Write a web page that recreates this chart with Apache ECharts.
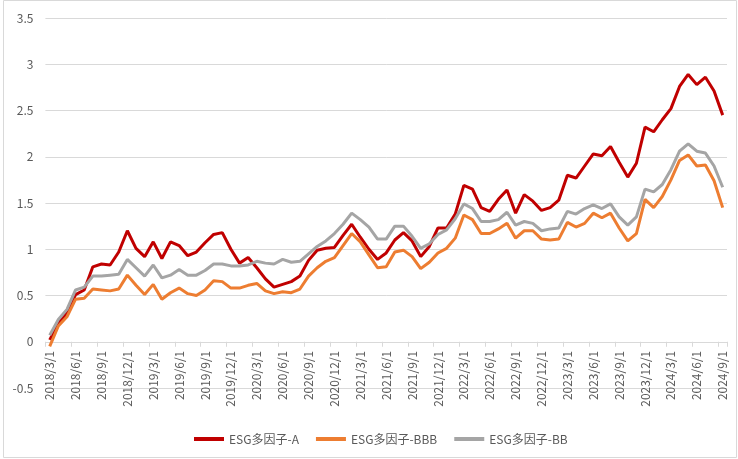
<!DOCTYPE html>
<html>
<head>
<meta charset="utf-8">
<script src="https://cdn.jsdelivr.net/npm/echarts@6/dist/echarts.min.js"></script>
<style>
html,body{margin:0;padding:0;background:#fff;}
#c{width:738px;height:459px;}
</style>
</head>
<body>
<div id="c"></div>
<script>
// Categories: monthly, 2018/3/1 .. 2024/9/1
const categories = [];
for (let y = 2018, m = 3; y < 2024 || (y === 2024 && m <= 9); ) {
  categories.push(y + '/' + m + '/1');
  m++; if (m > 12) { m = 1; y++; }
}

const seriesNames = ['ESG多因子-A', 'ESG多因子-BBB', 'ESG多因子-BB'];

const valuesA = [0.02,0.20,0.31,0.51,0.56,0.81,0.84,0.83,0.97,1.20,1.01,0.92,1.08,0.90,1.08,1.04,0.93,0.97,1.07,1.16,
  1.18,1.00,0.85,0.91,0.80,0.68,0.59,0.62,0.65,0.71,0.88,0.99,1.01,1.02,1.15,1.27,1.13,1.00,0.89,0.96,
  1.10,1.18,1.09,0.92,1.03,1.23,1.23,1.38,1.69,1.65,1.45,1.41,1.54,1.64,1.39,1.59,1.52,1.42,1.45,1.53,
  1.80,1.77,1.90,2.03,2.01,2.11,1.94,1.78,1.93,2.32,2.27,2.40,2.52,2.76,2.89,2.78,2.86,2.71,2.45];

const valuesBBB = [-0.05,0.17,0.27,0.46,0.47,0.57,0.56,0.55,0.57,0.72,0.61,0.51,0.62,0.46,0.53,0.58,0.52,0.50,0.56,0.66,
  0.65,0.58,0.58,0.61,0.63,0.55,0.52,0.54,0.53,0.57,0.71,0.80,0.87,0.91,1.04,1.17,1.08,0.94,0.80,0.81,
  0.97,0.99,0.92,0.79,0.86,0.96,1.01,1.12,1.37,1.32,1.17,1.17,1.22,1.28,1.12,1.20,1.20,1.11,1.10,1.11,
  1.29,1.24,1.28,1.39,1.34,1.39,1.23,1.09,1.17,1.54,1.45,1.57,1.75,1.96,2.02,1.90,1.91,1.74,1.45];

const valuesBB = [0.07,0.24,0.35,0.56,0.59,0.71,0.71,0.72,0.73,0.89,0.80,0.71,0.83,0.69,0.72,0.78,0.72,0.72,0.77,0.84,
  0.84,0.82,0.82,0.83,0.87,0.85,0.84,0.89,0.86,0.87,0.95,1.03,1.09,1.17,1.27,1.39,1.32,1.24,1.11,1.11,
  1.25,1.25,1.14,1.01,1.06,1.16,1.21,1.33,1.49,1.44,1.30,1.30,1.32,1.40,1.26,1.30,1.28,1.20,1.22,1.23,
  1.41,1.38,1.44,1.48,1.44,1.49,1.35,1.26,1.35,1.65,1.62,1.70,1.86,2.06,2.14,2.06,2.04,1.90,1.67];

const yMin = -0.5, yMax = 3.5, yInterval = 0.5;
const colors = ['#C00000', '#ED7D31', '#A5A5A5'];
const font = '"Noto Sans CJK SC", "Liberation Sans", sans-serif';

const gridTop = 18, gridBottom = 71, chartH = 459;
const plotH = chartH - gridTop - gridBottom;
// shift the x axis up so it sits on the zero line
const zeroOffset = -plotH * (0 - yMin) / (yMax - yMin);

const chart = echarts.init(document.getElementById('c'));
const mk = (name, data, color) => ({
  name, type: 'line', data, symbol: 'none', smooth: false,
  lineStyle: { color, width: 3 }, itemStyle: { color }, z: 3
});
chart.setOption({
  animation: false,
  color: colors,
  graphic: [{
    type: 'rect', shape: { x: 3.5, y: 0.5, width: 733, height: 457 },
    style: { fill: 'none', stroke: '#D9D9D9', lineWidth: 1 }, silent: true
  }],
  grid: { left: 45.4, right: 11, top: gridTop, bottom: gridBottom, containLabel: false },
  legend: {
    bottom: 9, left: 189,
    data: seriesNames,
    icon: 'rect', itemWidth: 30, itemHeight: 4, itemGap: 17,
    textStyle: { color: '#595959', fontSize: 12, fontFamily: font }
  },
  xAxis: {
    type: 'category', data: categories, boundaryGap: true,
    offset: zeroOffset,
    axisLine: { onZero: false, lineStyle: { color: '#D9D9D9', width: 1 } },
    axisTick: { show: true, interval: 2, length: 5, lineStyle: { color: '#D9D9D9' } },
    axisLabel: { interval: 2, rotate: 90, margin: 9, color: '#595959', fontSize: 12, fontFamily: font },
    splitLine: { show: false }
  },
  yAxis: {
    type: 'value', min: yMin, max: yMax, interval: yInterval,
    axisLine: { show: false }, axisTick: { show: false },
    axisLabel: { margin: 12, color: '#595959', fontSize: 12, fontFamily: font },
    splitLine: { lineStyle: { color: '#D9D9D9', width: 1 } }
  },
  series: [
    mk(seriesNames[0], valuesA, colors[0]),
    mk(seriesNames[1], valuesBBB, colors[1]),
    mk(seriesNames[2], valuesBB, colors[2])
  ]
});
</script>
</body>
</html>
